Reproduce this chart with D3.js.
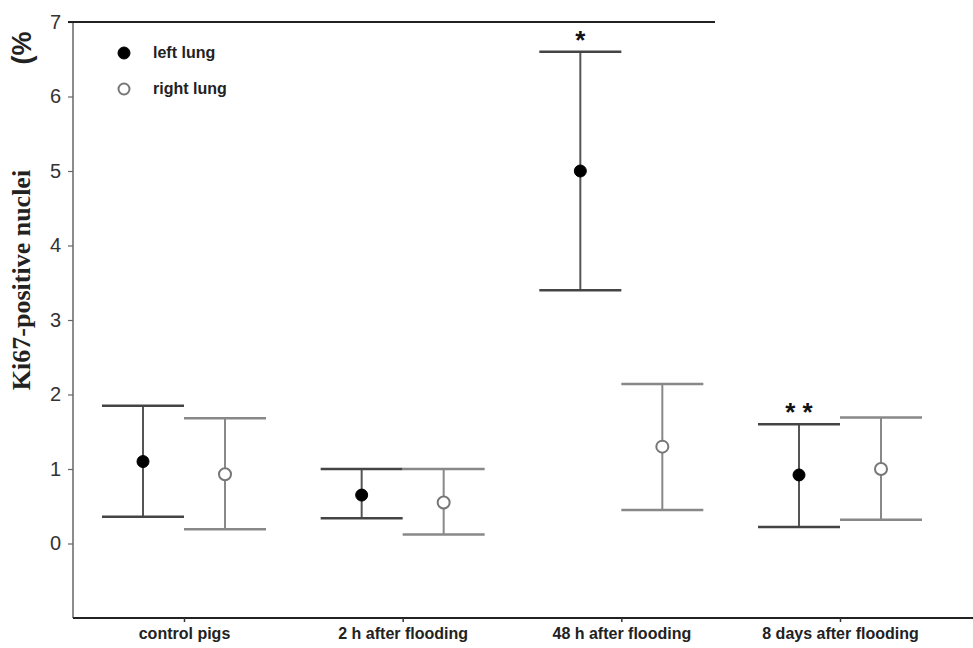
<!DOCTYPE html>
<html><head><meta charset="utf-8">
<script src="https://cdn.jsdelivr.net/npm/d3@7"></script>
<style>body{margin:0;background:#fff}svg{display:block}</style>
</head><body>
<script>
const categories = ["control pigs", "2 h after flooding", "48 h after flooding", "8 days after flooding"];
const leftMean  = [1.10, 0.65, 5.00, 0.92];
const leftLow   = [0.36, 0.34, 3.40, 0.22];
const leftHigh  = [1.85, 1.00, 6.60, 1.60];
const rightMean = [0.93, 0.55, 1.30, 1.00];
const rightLow  = [0.19, 0.12, 0.45, 0.32];
const rightHigh = [1.68, 1.00, 2.14, 1.69];
const yTicks = [0, 1, 2, 3, 4, 5, 6, 7];
const annotations = [{cat: "48 h after flooding", text: "*", value: 6.60}, {cat: "8 days after flooding", text: "* *", value: 1.60}];
const seriesNames = ["left lung", "right lung"];

const W = 973, H = 648;
const svg = d3.select("body").append("svg").attr("width", W).attr("height", H);

const y = d3.scaleLinear().domain([-1, 7]).range([618, 22]);
const x = d3.scalePoint().domain(categories).range([184, 840]);
const off = 41;

// y axis
const yAxis = svg.append("g").attr("transform", "translate(73,0)")
  .call(d3.axisLeft(y).tickValues(yTicks).tickSize(5).tickPadding(7).tickFormat(d3.format("d")));
yAxis.select(".domain").attr("stroke", "#666").attr("stroke-width", 1.5).attr("d", `M0,${y(-1)}V${y(7)}`);
yAxis.selectAll(".tick line").attr("stroke", "#666").attr("stroke-width", 1.2);
yAxis.selectAll(".tick text").attr("font-family", "Liberation Sans, Arial, sans-serif").attr("font-size", 20).attr("fill", "#333");

// x axis
const xAxis = svg.append("g").attr("transform", `translate(0,${y(-1)})`)
  .call(d3.axisBottom(x).tickSize(4).tickPadding(6));
xAxis.select(".domain").attr("stroke", "#222").attr("stroke-width", 2).attr("d", "M73,0H973");
xAxis.selectAll(".tick line").attr("stroke", "#333").attr("stroke-width", 1.5);
xAxis.selectAll(".tick text").attr("font-family", "Liberation Sans, Arial, sans-serif").attr("font-size", 16).attr("font-weight", "bold").attr("fill", "#222");

// top line
svg.append("line").attr("x1", 68).attr("x2", 715).attr("y1", y(7)).attr("y2", y(7))
  .attr("stroke", "#222").attr("stroke-width", 2);

// y title
svg.append("text").attr("transform", `translate(30,${(165+395)/2}) rotate(-90)`)
  .attr("text-anchor", "middle").attr("font-family", "Liberation Serif, Times New Roman, serif")
  .attr("font-size", 26).attr("font-weight", "bold").attr("fill", "#222").text("Ki67-positive nuclei");
svg.append("text").attr("transform", `translate(31,48) rotate(-90)`)
  .attr("text-anchor", "middle").attr("font-family", "Liberation Sans, Arial, sans-serif")
  .attr("font-size", 27).attr("font-weight", "bold").attr("fill", "#222").text("(%");

function drawSeries(mean, low, high, dx, color, capColor, filled) {
  const g = svg.append("g");
  categories.forEach((c, i) => {
    const cx = x(c) + dx;
    g.append("line").attr("x1", cx).attr("x2", cx).attr("y1", y(high[i])).attr("y2", y(low[i]))
      .attr("stroke", color).attr("stroke-width", 2);
    [high[i], low[i]].forEach(v => {
      g.append("line").attr("x1", cx - off).attr("x2", cx + off).attr("y1", y(v)).attr("y2", y(v))
        .attr("stroke", capColor).attr("stroke-width", 2.5);
    });
  });
  categories.forEach((c, i) => {
    g.append("circle").attr("cx", x(c) + dx).attr("cy", y(mean[i])).attr("r", 6)
      .attr("fill", filled ? "#000" : "#fff").attr("stroke", filled ? "#000" : "#777").attr("stroke-width", filled ? 1 : 2);
  });
}
drawSeries(leftMean, leftLow, leftHigh, -off, "#555", "#444", true);
drawSeries(rightMean, rightLow, rightHigh, off, "#888", "#888", false);

// annotations
annotations.forEach(a => {
  svg.append("text").attr("x", x(a.cat) - off).attr("y", y(a.value) - 3)
    .attr("text-anchor", "middle").attr("font-family", "Liberation Sans, Arial, sans-serif")
    .attr("font-size", 26).attr("font-weight", "bold").attr("fill", "#111").text(a.text);
});

// legend
const lg = svg.append("g");
seriesNames.forEach((n, i) => {
  const ly = 53 + i * 36;
  lg.append("circle").attr("cx", 124).attr("cy", ly).attr("r", i === 0 ? 6 : 5.5)
    .attr("fill", i === 0 ? "#000" : "#fff").attr("stroke", i === 0 ? "#000" : "#777").attr("stroke-width", i === 0 ? 1 : 2);
  lg.append("text").attr("x", 153).attr("y", ly + 5).attr("font-family", "Liberation Sans, Arial, sans-serif")
    .attr("font-size", 16).attr("font-weight", "bold").attr("fill", "#222").text(n);
});
</script>
</body></html>
